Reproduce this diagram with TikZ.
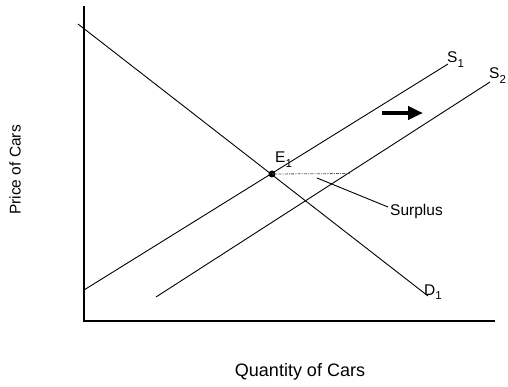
\documentclass[tikz,border=0pt]{standalone}
\usepackage{fontspec}
\setmainfont{Liberation Sans}
\usetikzlibrary{arrows.meta,positioning}

\newcommand{\lowsub}[1]{\raisebox{-0.3em}{\fontsize{11.5}{12}\selectfont #1}}

\tikzset{
  curve/.style={line width=0.9pt},
  axisline/.style={line width=1.1pt},
  curvelabel/.style={anchor=base west, inner sep=0pt, font=\fontsize{15.5}{18}\selectfont},
  axislabel/.style={inner sep=0pt, font=\fontsize{15.5}{18}\selectfont},
  shiftarrow/.style={line width=4.5pt, -{Triangle[length=15pt,width=13pt]}},
  surplusline/.style={gray!70!black, line width=0.8pt, dash pattern=on 3pt off 1.2pt on 1pt off 1.2pt}
}

\begin{document}
\begin{tikzpicture}[x=1pt,y=-1pt]
\useasboundingbox (0,0) rectangle (508,387);

% axes
\coordinate (ytop) at (84,6);
\coordinate (origin) at (84,321);
\coordinate (xend) at (495,321);
\draw[axisline] (ytop) -- (origin) -- (xend);

% supply and demand
\coordinate (s1start) at (84,290);
\coordinate (s1end) at (448,64);
\coordinate (s2start) at (156,297);
\coordinate (s2end) at (490,82);
\coordinate (d1start) at (78,24);
\coordinate (d1end) at (428,296);
\draw[curve] (s1start) -- (s1end);
\draw[curve] (s2start) -- (s2end);
\draw[curve] (d1start) -- (d1end);

\node[curvelabel] (s1lab) at (447,63) {S\lowsub{1}};
\node[curvelabel] (s2lab) at (489,79) {S\lowsub{2}};
\node[curvelabel] (d1lab) at (424,295) {D\lowsub{1}};

% equilibrium
\node[circle, fill=black, inner sep=0pt, minimum size=7pt] (e1) at (272,174) {};
\node[curvelabel] (e1lab) at (275,163) {E\lowsub{1}};

% surplus
\coordinate (surplusend) at (350,173.5);
\draw[surplusline] (e1.center) -- (surplusend);
\node[curvelabel] (surpluslab) at (390,216) {Surplus};
\coordinate (pointtip) at (317,178);
\coordinate (pointfoot) at (388,207);
\draw[curve] (pointtip) -- (pointfoot);

% shift
\coordinate (arrowfrom) at (382,113);
\coordinate (arrowto) at (423,113);
\draw[shiftarrow] (arrowfrom) -- (arrowto);

% axis labels
\node[axislabel, rotate=90] (ylab) at (15,170) {Price of Cars};
\node[axislabel, font=\fontsize{18}{21}\selectfont] (xlab) at (300,372) {Quantity of Cars};
\end{tikzpicture}
\end{document}
